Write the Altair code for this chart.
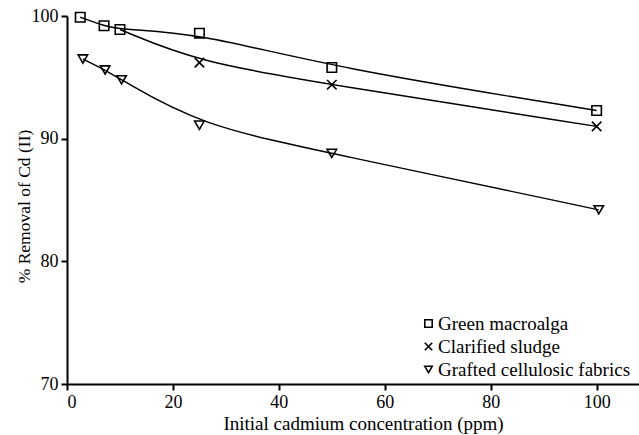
import altair as alt
import pandas as pd

series_names = ["Green macroalga", "Clarified sludge", "Grafted cellulosic fabrics"]

green_x = [2.5, 7, 10, 25, 50, 100]
green_y = [99.9, 99.2, 98.9, 98.6, 95.8, 92.3]

sludge_x = [10, 25, 50, 100]
sludge_y = [98.9, 96.2, 94.4, 91.0]
sludge_marker = [False, True, True, True]

grafted_x = [3, 7.2, 10.3, 25, 50, 100.4]
grafted_y = [96.5, 95.6, 94.8, 91.1, 88.8, 84.2]

rows = []
for x, y in zip(green_x, green_y):
    rows.append({"series": series_names[0], "x": x, "y": y, "marker": True})
for x, y, m in zip(sludge_x, sludge_y, sludge_marker):
    rows.append({"series": series_names[1], "x": x, "y": y, "marker": m})
for x, y in zip(grafted_x, grafted_y):
    rows.append({"series": series_names[2], "x": x, "y": y, "marker": True})
df = pd.DataFrame(rows)

FONT = "Times New Roman, Liberation Serif, Tinos, serif"

xs = alt.X("x:Q", scale=alt.Scale(domain=[0, 108], nice=False),
           axis=alt.Axis(values=[0, 20, 40, 60, 80, 100], title="Initial cadmium concentration (ppm)",
                         titleX=296, titleY=45, titleBaseline="alphabetic", titleAnchor="middle",
                         titleAlign="center", titleFontSize=19))
ys = alt.Y("y:Q", scale=alt.Scale(domain=[70, 100], nice=False, zero=False),
           axis=alt.Axis(values=[70, 80, 90, 100], title="% Removal of Cd (II)",
                         titleX=-43, titleY=190, titleAlign="center", titleBaseline="middle",
                         titleAngle=-90, titleFontSize=17.5))

lines = alt.Chart(df).mark_line(color="black", strokeWidth=1.4, interpolate="basis").encode(
    x=xs, y=ys, detail="series:N"
)

shape_scale = alt.Scale(
    domain=series_names,
    range=["square", "M-1,-1L1,1M-1,1L1,-1", "triangle-down"],
)

points = alt.Chart(df).mark_point(color="black", filled=False, strokeWidth=1.6, size=90, opacity=1).encode(
    x="x:Q", y="y:Q",
    shape=alt.Shape("series:N", scale=shape_scale, sort=series_names,
                    legend=alt.Legend(title=None, orient="none", legendX=352, legendY=298,
                                      labelFont=FONT, labelFontSize=19, labelColor="black",
                                      labelLimit=400,
                                      symbolStrokeColor="black", symbolFillColor="white",
                                      symbolStrokeWidth=1.6, symbolSize=55, symbolOffset=0,
                                      rowPadding=3, labelOffset=0)),
).transform_filter("datum.marker")

chart = (lines + points).properties(
    width=572, height=368,
    padding={"left": 67, "top": 16, "right": 0, "bottom": 51},
    autosize=alt.AutoSizeParams(type="none"),
).configure_view(stroke=None).configure_axis(
    domainColor="black", domainWidth=2, tickColor="black", tickWidth=2, tickSize=6,
    labelFont=FONT, labelFontSize=18, labelColor="black", labelPadding=3,
    titleFont=FONT, titleFontSize=18, titleColor="black", titleFontWeight="normal",
    grid=False,
)

chart.save("out.html", embed_options={"renderer": "svg", "actions": False})
